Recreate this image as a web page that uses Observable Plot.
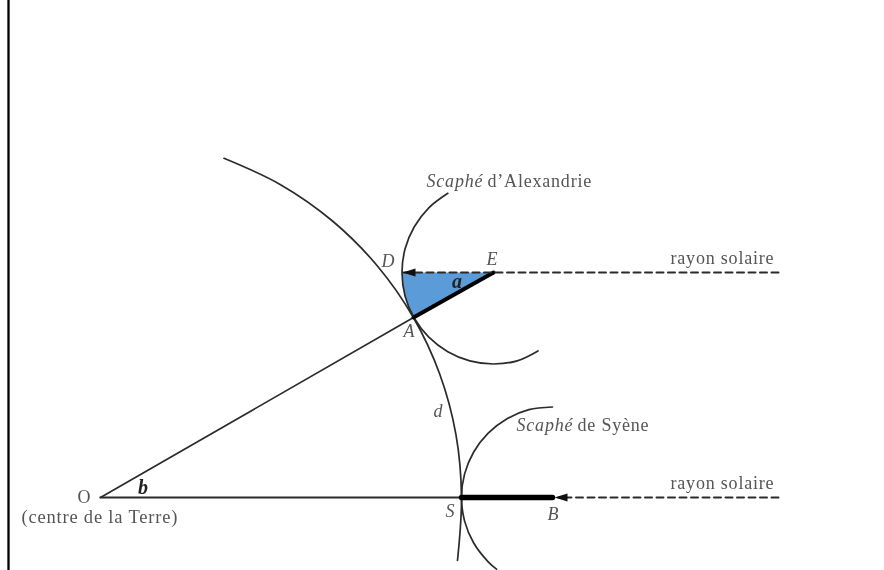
<!DOCTYPE html>
<html><head><meta charset="utf-8">
<script src="https://cdn.jsdelivr.net/npm/d3@7"></script>
<script src="https://cdn.jsdelivr.net/npm/@observablehq/plot@0.6"></script>
<style>
html,body{margin:0;padding:0;background:#fff;overflow:hidden}
svg{display:block;filter:blur(0.5px)}
svg text{letter-spacing:.8px}
</style></head><body><div id="c"></div>
<script>
const frameLeft = [{x:8,y1:0,y2:570}];
const earthArc = [[223.5,157.8],[280.5,184.4],[332,220.5],[376.5,265],[412.6,316.5],[439.2,373.5],[455.5,434.3],[461,497],[457,560]];
const scapheAlexandrie = [[447.3,192.8],[428.3,207.3],[413.8,226.3],[404.6,248.3],[401.5,272],[404.6,295.7],[413.8,317.8],[428.3,336.7],[447.3,351.2],[469.3,360.4],[493,363.5],[516.7,360.4],[537.5,350.5]];
const scapheSyene = [[552,406.5],[528.4,409.1],[506.5,418.2],[487.7,432.7],[473.2,451.5],[464.1,473.4],[461,497],[464.1,520.6],[473.2,542.5],[487.7,561.3],[496,568.7]];
const blueSector = [[401.5,272],[402.3,285],[404.6,295.7],[408,306],[413,317],[493,272]];
const radiusOA = [[100,497],[413,317]];
const radiusOS = [[100,497],[461,497]];
const gnomonA = [[413,317],[493,272]];
const gnomonS = [[461,497],[552,497]];
const rayAlexandrie = [[778,272],[403,272]];
const raySyene = [[778,497],[558,497]];
const arrowHeads = [
  [[402,272],[415,268],[415,276]],
  [[554,497],[567,493],[567,501]]
];
const labelsItalic = [
  {x:426,y:186,t:"Scaphé"},
  {x:516,y:430,t:"Scaphé"}
];
const labelsRoman = [
  {x:487,y:186,t:"d’Alexandrie"},
  {x:577,y:430,t:"de Syène"},
  {x:670,y:263,t:"rayon solaire"},
  {x:670,y:488,t:"rayon solaire"}
];
const centreLabel = [{x:21,y:522,t:"(centre de la Terre)"}];
const points = [
  {x:388,y:266,t:"D"},
  {x:492,y:264,t:"E"},
  {x:409,y:336,t:"A"},
  {x:438,y:416,t:"d"},
  {x:450,y:516,t:"S"},
  {x:553,y:519,t:"B"}
];
const pointO = [{x:84,y:502,t:"O"}];
const boldLabels = [
  {x:457,y:287,t:"a"},
  {x:143,y:493,t:"b"}
];
const serif = "'Liberation Serif', serif";
const line = (d,o)=>Plot.line(d,{x:p=>p[0],y:p=>p[1],stroke:"#2b2b2b",...o});
const txt = {x:"x",y:"y",text:"t",fontFamily:serif,fontSize:18,fill:"#555",lineAnchor:"bottom"};
const chart = Plot.plot({
  width:884,height:570,margin:0,
  x:{domain:[0,884],range:[0,884],axis:null},
  y:{domain:[0,570],range:[0,570],axis:null},
  marks:[
    line(blueSector,{stroke:"none",fill:"#5b9bd8"}),
    line(earthArc,{curve:"catmull-rom",strokeWidth:1.7}),
    line(scapheAlexandrie,{curve:"catmull-rom",strokeWidth:1.7}),
    line(scapheSyene,{curve:"catmull-rom",strokeWidth:1.7}),
    line(radiusOA,{strokeWidth:1.7}),
    line(radiusOS,{strokeWidth:2.2}),
    line(gnomonA,{stroke:"#000",strokeWidth:4}),
    line(gnomonS,{stroke:"#000",strokeWidth:5.5}),
    line(rayAlexandrie,{strokeWidth:2,strokeDasharray:"7 4.5"}),
    line(raySyene,{strokeWidth:2,strokeDasharray:"7 4.5"}),
    ...arrowHeads.map(h=>line(h,{stroke:"none",fill:"#111"})),
    Plot.ruleX(frameLeft,{x:"x",y1:"y1",y2:"y2",stroke:"#000",strokeWidth:2.3}),
    Plot.text(labelsItalic,{...txt,textAnchor:"start",fontStyle:"italic"}),
    Plot.text(labelsRoman,{...txt,textAnchor:"start"}),
    Plot.text(centreLabel,{...txt,textAnchor:"start",fontSize:18.5}),
    Plot.text(points,{...txt,textAnchor:"middle",fontStyle:"italic"}),
    Plot.text(pointO,{...txt,textAnchor:"middle"}),
    Plot.text(boldLabels,{...txt,fontStyle:"italic",fontWeight:"bold",fontSize:20,fill:"#222"})
  ]
});
document.getElementById("c").appendChild(chart);
</script></body></html>
